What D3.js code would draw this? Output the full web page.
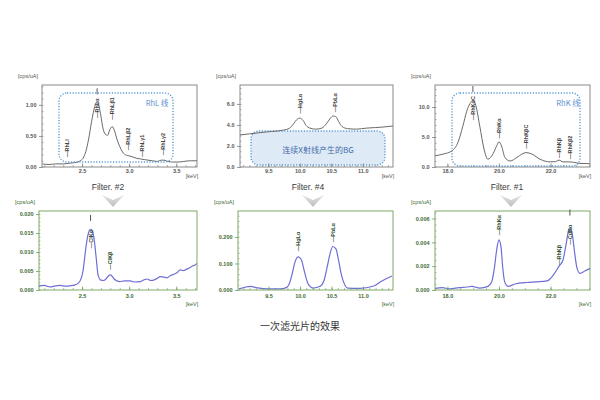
<!DOCTYPE html>
<html><head><meta charset="utf-8">
<script src="https://cdn.jsdelivr.net/npm/d3@7"></script>
<style>body{margin:0;background:#fff}svg{display:block}</style>
</head><body><svg id="c" width="600" height="400"></svg>
<script>
// ---------- DATA ----------
// Top row: without filter
const rhLEnergy = [2.08,2.15,2.22,2.30,2.36,2.42,2.47,2.51,2.54,2.57,2.60,2.62,2.64,2.66,2.68,2.70,2.72,2.745,2.77,2.795,2.82,2.845,2.87,2.90,2.93,2.97,3.00,3.04,3.08,3.12,3.16,3.20,3.25,3.30,3.34,3.37,3.41,3.46,3.52,3.58,3.65,3.72];
const rhLCounts = [0.05,0.04,0.05,0.05,0.06,0.07,0.09,0.14,0.25,0.45,0.72,0.88,1.00,1.05,0.98,0.82,0.64,0.53,0.51,0.60,0.65,0.58,0.45,0.33,0.24,0.19,0.18,0.16,0.14,0.13,0.12,0.11,0.10,0.09,0.11,0.11,0.09,0.08,0.08,0.09,0.10,0.10];
const bgEnergy = [9.05,9.2,9.37,9.55,9.73,9.84,9.90,9.95,10.0,10.05,10.10,10.16,10.25,10.35,10.42,10.48,10.53,10.57,10.62,10.67,10.76,10.9,11.06,11.2,11.32,11.48];
const bgCounts = [3.05,3.15,3.27,3.38,3.5,3.7,4.1,4.5,4.65,4.45,3.95,3.7,3.6,3.7,4.1,4.6,4.85,4.8,4.3,3.85,3.65,3.6,3.7,3.75,3.8,3.9];
const rhKEnergy = [17.52,17.83,18.18,18.41,18.6,18.75,18.88,18.99,19.1,19.26,19.42,19.57,19.77,19.92,20.0,20.1,20.23,20.43,20.7,20.89,21.05,21.28,21.59,21.98,22.2,22.33,22.48,22.75,23.14,23.53];
const rhKCounts = [1.86,2.15,2.7,4.1,6.8,9.3,10.6,11.1,10.3,6.7,3.0,1.3,2.2,3.6,4.2,3.5,1.6,1.0,1.6,2.15,2.4,2.15,1.3,0.85,0.9,1.15,0.85,0.85,0.6,0.55];
// Bottom row: with primary filter
const f2Energy = [2.04,2.10,2.16,2.22,2.27,2.32,2.37,2.42,2.46,2.49,2.51,2.53,2.55,2.57,2.59,2.61,2.63,2.65,2.67,2.70,2.73,2.76,2.78,2.80,2.82,2.84,2.87,2.90,2.95,3.01,3.06,3.12,3.16,3.19,3.23,3.26,3.30,3.33,3.37,3.40,3.44,3.47,3.51,3.54,3.58,3.61,3.64,3.67,3.70,3.72];
const f2Counts = [0.0011,0.0012,0.0008,0.0011,0.0012,0.0010,0.0011,0.0013,0.0018,0.0030,0.0050,0.0090,0.0128,0.0152,0.0160,0.0155,0.0130,0.0085,0.0040,0.0026,0.0025,0.0031,0.0037,0.0040,0.0036,0.0029,0.0024,0.0022,0.0024,0.0024,0.0021,0.0022,0.0027,0.0029,0.0025,0.0026,0.0031,0.0035,0.0034,0.0032,0.0038,0.0041,0.0046,0.0053,0.0051,0.0055,0.0058,0.0063,0.0066,0.0070];
const f4Energy = [9.03,9.12,9.21,9.32,9.48,9.68,9.79,9.84,9.88,9.92,9.97,10.02,10.06,10.10,10.14,10.21,10.32,10.38,10.43,10.48,10.52,10.57,10.61,10.65,10.70,10.76,10.95,11.16,11.3,11.46];
const f4Counts = [0.004,0.010,0.014,0.0085,0.004,0.004,0.010,0.030,0.065,0.105,0.125,0.115,0.080,0.042,0.018,0.0074,0.014,0.035,0.085,0.140,0.164,0.155,0.115,0.065,0.025,0.0074,0.006,0.014,0.034,0.053];
const f1Energy = [17.52,17.8,18.1,18.45,18.76,18.95,19.26,19.57,19.72,19.82,19.92,20.0,20.08,20.15,20.22,20.35,20.62,21.09,21.47,21.86,22.09,22.33,22.48,22.6,22.7,22.77,22.85,22.93,23.02,23.14,23.33,23.53];
const f1Counts = [0.00014,0.0002,0.0001,0.0002,0.00025,0.0003,0.00016,0.0003,0.0007,0.0018,0.0035,0.0042,0.0036,0.0018,0.0007,0.0003,0.0005,0.00063,0.00068,0.00076,0.0012,0.002,0.0025,0.0038,0.0050,0.0052,0.0046,0.0032,0.0019,0.0014,0.0016,0.0018];

// Tick labels
const lXTicks = [2.5, 3.0, 3.5];
const mXTicks = [9.5, 10.0, 10.5, 11.0];
const kXTicks = [18.0, 20.0, 22.0];
const rhLYTicks = [0.0, 0.5, 1.0];
const bgYTicks = [0.0, 2.0, 4.0, 6.0];
const rhKYTicks = [0.0, 5.0, 10.0];
const f2YTicks = [0.000, 0.005, 0.010, 0.015, 0.020];
const f4YTicks = [0.000, 0.100, 0.200];
const f1YTicks = [0.000, 0.002, 0.004, 0.006];

// Peak annotations (name, energy, level at label start)
const rhLPeaks = ["RhLl","RhLα","RhLβ1","RhLβ2","RhLγ1","RhLγ2"];
const rhLPeakE = [2.34, 2.66, 2.82, 2.99, 3.14, 3.36];
const rhLPeakV = [0.16, 0.79, 0.76, 0.27, 0.16, 0.19];
const bgPeaks = ["HgLα","PbLα"];
const bgPeakE = [10.0, 10.56];
const bgPeakV = [5.1, 5.2];
const rhKPeaks = ["RhKαC","RhKα","RhKβC","RhKβ","RhKβ2"];
const rhKPeakE = [18.99, 20.0, 21.05, 22.33, 22.75];
const rhKPeakV = [7.8, 4.75, 3.05, 1.5, 1.35];
const f2Peaks = ["ClKα","ClKβ"];
const f2PeakE = [2.59, 2.8];
const f2PeakV = [0.011, 0.0053];
const f4Peaks = ["HgLα","PbLα"];
const f4PeakE = [9.97, 10.52];
const f4PeakV = [0.146, 0.18];
const f1Peaks = ["RhKα","RhKβ","CdKα"];
const f1PeakE = [20.0, 22.33, 22.75];
const f1PeakV = [0.0046, 0.0021, 0.0038];

const filterNames = ["Filter. #2", "Filter. #4", "Filter. #1"];
const caption = "一次滤光片的效果";
const boxTexts = ["RhL 线", "连续X射线产生的BG", "RhK 线"];

// ---------- DRAW ----------
const svg = d3.select("#c");
const FONT = "'Liberation Sans', Arial, sans-serif";

function panel(o) {
  const x = d3.scaleLinear().domain(o.xd).range([o.l, o.r]);
  const y = d3.scaleLinear().domain([0, o.ymax]).range([o.b, o.t]);
  const g = svg.append("g");

  if (o.before) o.before(g, x, y);

  // line
  const pts = o.ex.map((e, i) => [e, o.cy[i]]);
  g.append("path").datum(pts)
    .attr("fill", "none").attr("stroke", o.lineColor).attr("stroke-width", o.lineW)
    .attr("d", d3.line().x(d => x(d[0])).y(d => y(d[1])).curve(d3.curveMonotoneX));

  // frame
  g.append("rect").attr("x", o.l).attr("y", o.t).attr("width", o.r - o.l).attr("height", o.b - o.t)
    .attr("fill", "none").attr("stroke", o.frame).attr("stroke-width", 0.9);

  // minor x ticks
  const minor = d3.range(Math.ceil(o.xd[0] / o.xMinor) * o.xMinor, o.xd[1], o.xMinor);
  g.append("g").attr("transform", `translate(0,${o.b})`)
    .call(d3.axisBottom(x).tickValues(minor).tickSize(-2).tickFormat(""))
    .call(a => { a.select(".domain").remove(); a.selectAll("line").attr("stroke", o.frame).attr("stroke-width", 0.6); });
  // major x ticks
  g.append("g").attr("transform", `translate(0,${o.b})`)
    .call(d3.axisBottom(x).tickValues(o.xt).tickSize(-3.5).tickPadding(o.xPad).tickFormat(d3.format(".1f")))
    .call(a => {
      a.select(".domain").remove();
      a.selectAll("line").attr("stroke", o.frame).attr("stroke-width", 0.8);
      a.selectAll("text").attr("font-size", 5.5).attr("font-family", FONT).attr("font-weight", "bold").attr("fill", o.textColor);
    });
  // minor y ticks
  const yminor = d3.range(0, o.ymax, o.yMinor);
  g.append("g").attr("transform", `translate(${o.l},0)`)
    .call(d3.axisLeft(y).tickValues(yminor).tickSize(-1.5).tickFormat(""))
    .call(a => { a.select(".domain").remove(); a.selectAll("line").attr("stroke", o.frame).attr("stroke-width", 0.6); });
  // major y ticks
  g.append("g").attr("transform", `translate(${o.l},0)`)
    .call(d3.axisLeft(y).tickValues(o.yt).tickSize(3).tickPadding(2.5).tickFormat(d3.format(o.yf)))
    .call(a => {
      a.select(".domain").remove();
      a.selectAll("line").attr("stroke", o.frame).attr("stroke-width", 0.8);
      a.selectAll("text").attr("font-size", 5.5).attr("font-family", FONT).attr("font-weight", "bold").attr("fill", o.textColor);
    });

  // unit labels
  g.append("text").attr("x", o.l - 14).attr("y", o.t - 7).attr("text-anchor", "middle")
    .attr("font-size", 5.5).attr("font-family", FONT).attr("fill", o.textColor).text("[cps/uA]");
  g.append("text").attr("x", o.r - 5).attr("y", o.b + o.kevDy).attr("text-anchor", "middle")
    .attr("font-size", 5.5).attr("font-family", FONT).attr("fill", o.textColor).text("[keV]");

  // peak labels
  o.pn.forEach((n, i) => {
    const px = x(o.pe[i]), py = y(o.pv[i]);
    const t = g.append("text").attr("transform", `translate(${px + 2},${py}) rotate(-90)`)
      .attr("font-size", 5.5).attr("font-family", FONT).attr("font-weight", "bold")
      .attr("fill", o.peakColor).text("—" + n);
    if (o.mark === i) {
      const len = t.node().getComputedTextLength();
      g.append("line").attr("x1", px).attr("x2", px)
        .attr("y1", py - len - o.markGap).attr("y2", py - len - o.markGap - 6)
        .attr("stroke", o.peakColor).attr("stroke-width", 0.9);
    }
  });
  if (o.after) o.after(g, x, y);
}

const topCommon = { t: 85, b: 167, frame: "#7d7d7d", lineColor: "#6a6a6a", lineW: 1, textColor: "#555", peakColor: "#444", xPad: 2.5, kevDy: 11, markGap: 4 };
const botCommon = { t: 211, b: 290, frame: "#6f9f55", lineColor: "#6e6ed6", lineW: 1.2, textColor: "#3c6a32", peakColor: "#2f4f2f", xPad: 4, kevDy: 16, markGap: 9 };

function blueBox(g, x0, y0, x1, y1, fill) {
  g.append("rect").attr("x", x0).attr("y", y0).attr("width", x1 - x0).attr("height", y1 - y0)
    .attr("rx", 8).attr("ry", 8)
    .attr("fill", fill || "none").attr("stroke", "#5b9bd5").attr("stroke-width", 1.4)
    .attr("stroke-dasharray", "1.2,1.6");
}

// Top-left: Rh L lines
panel(Object.assign({}, topCommon, {
  l: 42, r: 197, xd: [2.075, 3.72], ymax: 1.32, xt: lXTicks, yt: rhLYTicks, yf: ".2f", xMinor: 0.1, yMinor: 0.1,
  ex: rhLEnergy, cy: rhLCounts, pn: rhLPeaks, pe: rhLPeakE, pv: rhLPeakV, mark: 1,
  after: g => {
    blueBox(g, 59, 93, 173, 162);
    g.append("text").attr("x", 157).attr("y", 106).attr("text-anchor", "middle").attr("font-size", 7.5)
      .attr("font-family", "'Noto Sans CJK SC', sans-serif").attr("fill", "#5b8fd0").text(boxTexts[0]);
  }
}));

// Top-middle: continuous X-ray BG
panel(Object.assign({}, topCommon, {
  l: 240, r: 393, xd: [9.05, 11.48], ymax: 7.8, xt: mXTicks, yt: bgYTicks, yf: ".1f", xMinor: 0.1, yMinor: 0.5,
  ex: bgEnergy, cy: bgCounts, pn: bgPeaks, pe: bgPeakE, pv: bgPeakV, mark: -1,
  before: g => {
    blueBox(g, 251, 131, 385, 165, "#dfeaf7");
  },
  after: g => {
    g.append("text").attr("x", 318).attr("y", 153).attr("text-anchor", "middle").attr("font-size", 8)
      .attr("font-family", "'Noto Sans CJK SC', sans-serif").attr("fill", "#3f6ea8").text(boxTexts[1]);
  }
}));

// Top-right: Rh K lines
panel(Object.assign({}, topCommon, {
  l: 435, r: 590, xd: [17.52, 23.53], ymax: 13.67, xt: kXTicks, yt: rhKYTicks, yf: ".1f", xMinor: 0.5, yMinor: 1,
  ex: rhKEnergy, cy: rhKCounts, pn: rhKPeaks, pe: rhKPeakE, pv: rhKPeakV, mark: 0,
  after: g => {
    blueBox(g, 452, 93, 580, 166);
    g.append("text").attr("x", 568).attr("y", 106).attr("text-anchor", "middle").attr("font-size", 7.5)
      .attr("font-family", "'Noto Sans CJK SC', sans-serif").attr("fill", "#5b8fd0").text(boxTexts[2]);
  }
}));

// Bottom-left: Filter #2
panel(Object.assign({}, botCommon, {
  l: 39, r: 197, xd: [2.043, 3.72], ymax: 0.0208, xt: lXTicks, yt: f2YTicks, yf: ".3f", xMinor: 0.1, yMinor: 0.001,
  ex: f2Energy, cy: f2Counts, pn: f2Peaks, pe: f2PeakE, pv: f2PeakV, mark: 0
}));
// Bottom-middle: Filter #4
panel(Object.assign({}, botCommon, {
  l: 238, r: 393, xd: [9.016, 11.476], ymax: 0.298, xt: mXTicks, yt: f4YTicks, yf: ".3f", xMinor: 0.1, yMinor: 0.02,
  ex: f4Energy, cy: f4Counts, pn: f4Peaks, pe: f4PeakE, pv: f4PeakV, mark: -1
}));
// Bottom-right: Filter #1
panel(Object.assign({}, botCommon, {
  l: 435, r: 590, xd: [17.52, 23.53], ymax: 0.00663, xt: kXTicks, yt: f1YTicks, yf: ".3f", xMinor: 0.5, yMinor: 0.0005,
  ex: f1Energy, cy: f1Counts, pn: f1Peaks, pe: f1PeakE, pv: f1PeakV, mark: 2
}));

// Filter labels + arrows
const defs = svg.append("defs");
const grad = defs.append("linearGradient").attr("id", "ag").attr("x1", 0).attr("y1", 0).attr("x2", 0).attr("y2", 1);
grad.append("stop").attr("offset", "0%").attr("stop-color", "#e4e4e4");
grad.append("stop").attr("offset", "100%").attr("stop-color", "#bdbdbd");
const filterX = [108, 308, 507];
const arrowX = [113, 313, 511];
filterNames.forEach((n, i) => {
  svg.append("text").attr("x", filterX[i]).attr("y", 190).attr("text-anchor", "middle")
    .attr("font-size", 8.5).attr("font-family", FONT).attr("fill", "#3a3a3a").text(n);
  const cx = arrowX[i];
  svg.append("path").attr("d", `M${cx - 11},195 L${cx},200 L${cx + 11},195 L${cx},207 Z`)
    .attr("fill", "url(#ag)");
});

// caption
svg.append("text").attr("x", 300).attr("y", 330).attr("text-anchor", "middle")
  .attr("font-size", 10).attr("font-family", "'Noto Sans CJK SC', sans-serif").attr("fill", "#333").text(caption);
</script>
</body></html>
